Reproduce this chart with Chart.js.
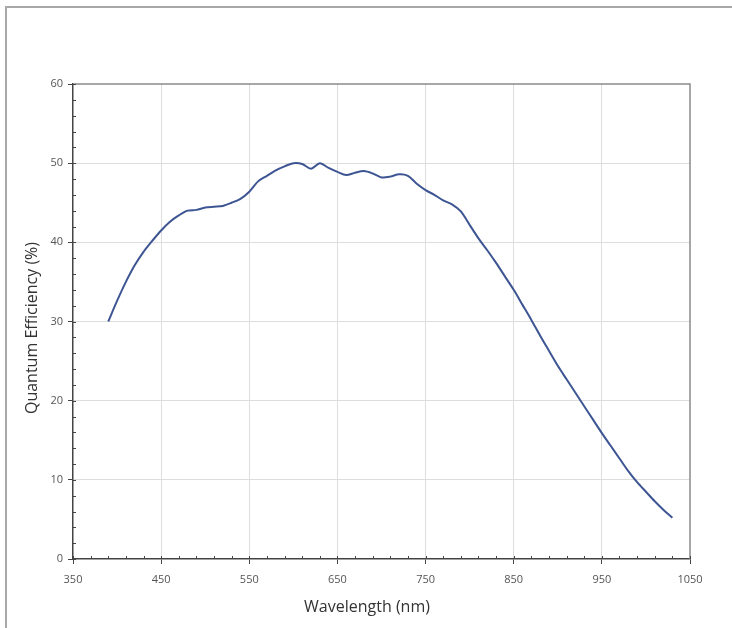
<!DOCTYPE html>
<html>
<head>
<meta charset="utf-8">
<script src="https://cdn.jsdelivr.net/npm/chart.js@4.4.1/dist/chart.umd.min.js"></script>
<style>
  html, body { margin: 0; padding: 0; background: #ffffff; }
  #frame { position: absolute; left: 5px; top: 6px; width: 800px; height: 700px; border: 2px solid #a8a8a8; box-sizing: border-box; }
  #wrap { position: absolute; left: 0; top: 0; width: 732px; height: 628px; }
</style>
</head>
<body>
<div id="frame"></div>
<div id="wrap"><canvas id="c" width="732" height="628"></canvas></div>
<script>
const wavelengths = [390,400,410,420,430,440,450,460,470,480,490,500,510,520,530,540,550,560,570,580,590,600,610,620,630,640,650,660,670,680,690,700,710,720,730,740,750,760,770,780,790,800,810,820,830,840,850,860,870,880,890,900,910,920,930,940,950,960,970,980,990,1000,1010,1020,1030];
const qeValues = [30.0,32.6,35.0,37.1,38.8,40.2,41.5,42.6,43.4,44.0,44.1,44.4,44.5,44.6,45.0,45.5,46.4,47.7,48.4,49.1,49.6,50.0,49.9,49.3,50.0,49.4,48.9,48.5,48.8,49.0,48.7,48.2,48.3,48.6,48.4,47.4,46.6,46.0,45.3,44.8,43.9,42.2,40.5,39.0,37.4,35.7,34.0,32.1,30.2,28.2,26.3,24.4,22.7,21.0,19.3,17.6,15.9,14.3,12.7,11.1,9.7,8.5,7.3,6.2,5.2];
const xMajorTicks = [350,450,550,650,750,850,950,1050];
const yMajorTicks = [0,10,20,30,40,50,60];
const xTitle = 'Wavelength (nm)';
const yTitle = 'Quantum Efficiency (%)';

const points = wavelengths.map((w, i) => ({x: w, y: qeValues[i]}));

const frameAndMinor = {
  id: 'frameAndMinor',
  afterDraw(chart) {
    const {ctx, chartArea: a, scales} = chart;
    ctx.save();
    ctx.strokeStyle = '#8a8a8a';
    ctx.lineWidth = 1.5;
    ctx.beginPath();
    ctx.moveTo(a.left, a.top); ctx.lineTo(a.right, a.top); ctx.lineTo(a.right, a.bottom);
    ctx.stroke();
    ctx.strokeStyle = '#444';
    ctx.lineWidth = 1;
    ctx.beginPath();
    scales.x.ticks.forEach(t => {
      const px = Math.round(scales.x.getPixelForValue(t.value)) + 0.5;
      ctx.moveTo(px, a.bottom); ctx.lineTo(px, a.bottom - 3);
    });
    scales.y.ticks.forEach(t => {
      const py = Math.round(scales.y.getPixelForValue(t.value)) + 0.5;
      ctx.moveTo(a.left, py); ctx.lineTo(a.left + 3, py);
    });
    ctx.stroke();
    // axis titles
    ctx.fillStyle = '#333';
    ctx.font = '16px "Open Sans"';
    ctx.textAlign = 'center';
    ctx.textBaseline = 'middle';
    ctx.fillText(xTitle, 367, 607);
    ctx.translate(32, 328);
    ctx.rotate(-Math.PI / 2);
    ctx.fillText(yTitle, 0, 0);
    ctx.restore();
  }
};

const isMajorX = v => xMajorTicks.includes(v);
const isMajorY = v => yMajorTicks.includes(v);

new Chart(document.getElementById('c'), {
  type: 'line',
  data: {
    datasets: [{
      data: points,
      borderColor: '#3d5592',
      borderWidth: 2,
      pointRadius: 0,
      tension: 0.3,
      fill: false
    }]
  },
  options: {
    responsive: false,
    animation: false,
    events: [],
    layout: { padding: { left: 0, top: 84, right: 42, bottom: 0 } },
    plugins: { legend: { display: false }, tooltip: { enabled: false } },
    scales: {
      x: {
        type: 'linear',
        min: 350, max: 1050,
        afterFit: s => { s.height = 69; },
        afterBuildTicks: s => { s.ticks = []; for (let v = 350; v <= 1050; v += 20) s.ticks.push({value: v}); },
        ticks: {
          autoSkip: false, maxRotation: 0, padding: 9,
          color: '#555',
          font: { family: 'Open Sans', size: 11 },
          callback: v => isMajorX(v) ? String(v) : ''
        },
        grid: {
          color: c => (c.tick && isMajorX(c.tick.value) && c.tick.value !== 350 && c.tick.value !== 1050) ? '#dddddd' : 'rgba(0,0,0,0)',
          tickColor: c => (c.tick && isMajorX(c.tick.value)) ? '#444' : 'rgba(0,0,0,0)',
          tickLength: 5,
          lineWidth: 1
        },
        border: { color: '#444', width: 1.5 },
        title: { display: false }
      },
      y: {
        min: 0, max: 60,
        afterFit: s => { s.width = 73; },
        afterBuildTicks: s => { s.ticks = []; for (let v = 0; v <= 60; v += 2) s.ticks.push({value: v}); },
        ticks: {
          autoSkip: false, padding: 5,
          color: '#555',
          font: { family: 'Open Sans', size: 11 },
          callback: v => isMajorY(v) ? String(v) : ''
        },
        grid: {
          color: c => (c.tick && isMajorY(c.tick.value) && c.tick.value !== 0 && c.tick.value !== 60) ? '#dddddd' : 'rgba(0,0,0,0)',
          tickColor: c => (c.tick && isMajorY(c.tick.value)) ? '#444' : 'rgba(0,0,0,0)',
          tickLength: 5,
          lineWidth: 1
        },
        border: { color: '#444', width: 1.5 },
        title: { display: false }
      }
    }
  },
  plugins: [frameAndMinor]
});
</script>
</body>
</html>
